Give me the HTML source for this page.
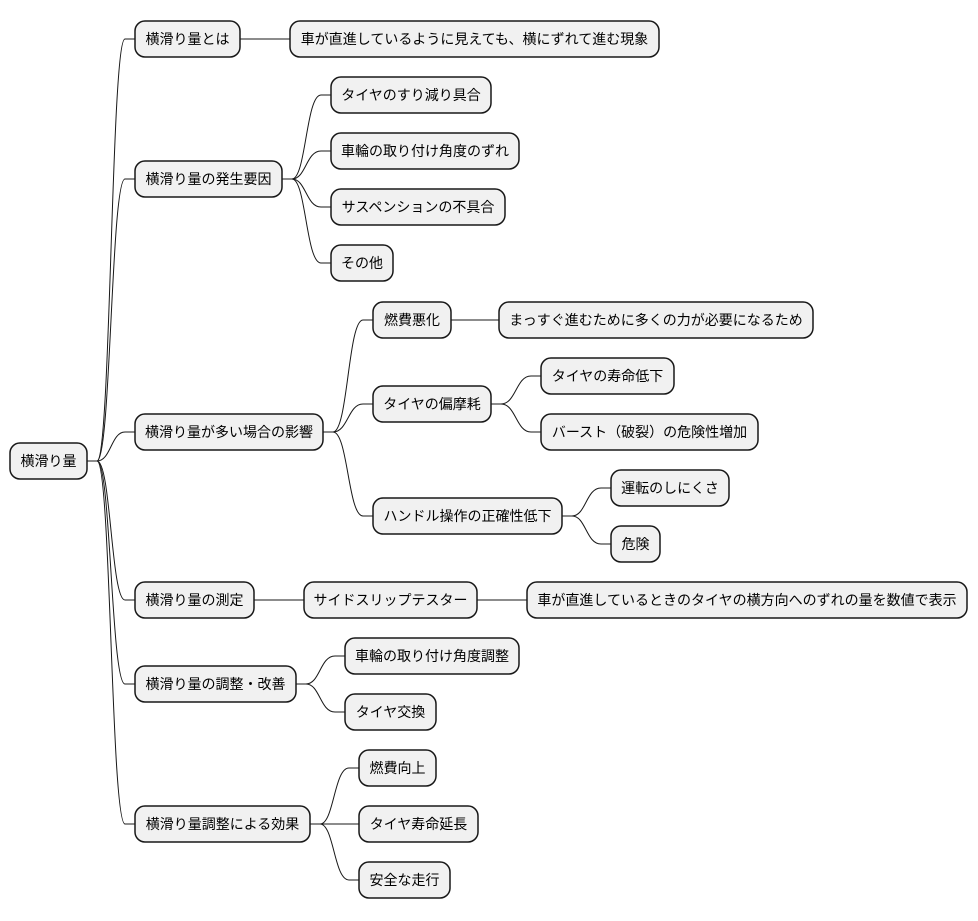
<!DOCTYPE html>
<html><head><meta charset="utf-8"><style>
html,body{margin:0;padding:0;background:#fff;}
svg{display:block;}
rect{fill:#f1f1f1;stroke:#181818;stroke-width:1.5;}
path{fill:none;stroke:#181818;stroke-width:1;}
text{font-family:"Liberation Sans","Noto Sans CJK JP",sans-serif;font-size:14px;fill:#000;text-anchor:middle;}
</style></head><body>
<svg width="978" height="921" viewBox="0 0 978 921" xmlns="http://www.w3.org/2000/svg">
<!-- connectors -->
<path d="M87 461 H97 C111 461,111 39,125 39 H135"/>
<path d="M87 461 H97 C111 461,111 179,125 179 H135"/>
<path d="M87 461 H97 C111 461,111 432,125 432 H135"/>
<path d="M87 461 H97 C111 461,111 600,125 600 H135"/>
<path d="M87 461 H97 C111 461,111 684,125 684 H135"/>
<path d="M87 461 H97 C111 461,111 824,125 824 H135"/>
<path d="M240 39 H290"/>
<path d="M282 179 H292 C306 179,306 95,321 95 H331"/>
<path d="M282 179 H292 C306 179,306 151,321 151 H331"/>
<path d="M282 179 H292 C306 179,306 207,321 207 H331"/>
<path d="M282 179 H292 C306 179,306 263,321 263 H331"/>
<path d="M323 432 H333 C348 432,348 320,363 320 H373"/>
<path d="M323 432 H333 C348 432,348 404,363 404 H373"/>
<path d="M323 432 H333 C348 432,348 516,363 516 H373"/>
<path d="M451 320 H499"/>
<path d="M491 404 H501 C516 404,516 376,531 376 H541"/>
<path d="M491 404 H501 C516 404,516 432,531 432 H541"/>
<path d="M562 516 H572 C586 516,586 488,601 488 H611"/>
<path d="M562 516 H572 C586 516,586 544,601 544 H611"/>
<path d="M254 600 H304"/>
<path d="M477 600 H527"/>
<path d="M296 684 H306 C320 684,320 656,335 656 H345"/>
<path d="M296 684 H306 C320 684,320 712,335 712 H345"/>
<path d="M310 824 H320 C334 824,334 768,349 768 H359"/>
<path d="M310 824 H320 C334 824,334 824,349 824 H359"/>
<path d="M310 824 H320 C334 824,334 880,349 880 H359"/>

<!-- nodes -->
<rect x="10" y="443" width="77" height="36" rx="10"/><text x="48.5" y="466">横滑り量</text>

<rect x="135" y="21" width="105" height="36" rx="10"/><text x="187.5" y="44">横滑り量とは</text>
<rect x="290" y="21" width="369" height="36" rx="10"/><text x="474.5" y="44">車が直進しているように見えても、横にずれて進む現象</text>

<rect x="135" y="161" width="147" height="36" rx="10"/><text x="208.5" y="184">横滑り量の発生要因</text>
<rect x="331" y="77" width="160" height="36" rx="10"/><text x="411" y="100">タイヤのすり減り具合</text>
<rect x="331" y="133" width="188" height="36" rx="10"/><text x="425" y="156">車輪の取り付け角度のずれ</text>
<rect x="331" y="189" width="174" height="36" rx="10"/><text x="418" y="212">サスペンションの不具合</text>
<rect x="331" y="245" width="62" height="36" rx="10"/><text x="362" y="268">その他</text>

<rect x="135" y="414" width="188" height="36" rx="10"/><text x="229" y="437">横滑り量が多い場合の影響</text>
<rect x="373" y="302" width="78" height="36" rx="10"/><text x="412" y="325">燃費悪化</text>
<rect x="499" y="302" width="314" height="36" rx="10"/><text x="656" y="325">まっすぐ進むために多くの力が必要になるため</text>
<rect x="373" y="386" width="118" height="36" rx="10"/><text x="432" y="409">タイヤの偏摩耗</text>
<rect x="541" y="358" width="133" height="36" rx="10"/><text x="607.5" y="381">タイヤの寿命低下</text>
<rect x="541" y="414" width="217" height="36" rx="10"/><text x="649.5" y="437">バースト（破裂）の危険性増加</text>
<rect x="373" y="498" width="189" height="36" rx="10"/><text x="467.5" y="521">ハンドル操作の正確性低下</text>
<rect x="611" y="470" width="118" height="36" rx="10"/><text x="670" y="493">運転のしにくさ</text>
<rect x="611" y="526" width="49" height="36" rx="10"/><text x="635.5" y="549">危険</text>

<rect x="135" y="582" width="119" height="36" rx="10"/><text x="194.5" y="605">横滑り量の測定</text>
<rect x="304" y="582" width="173" height="36" rx="10"/><text x="390.5" y="605">サイドスリップテスター</text>
<rect x="527" y="582" width="440" height="36" rx="10"/><text x="747" y="605">車が直進しているときのタイヤの横方向へのずれの量を数値で表示</text>

<rect x="135" y="666" width="161" height="36" rx="10"/><text x="215.5" y="689">横滑り量の調整・改善</text>
<rect x="345" y="638" width="174" height="36" rx="10"/><text x="432" y="661">車輪の取り付け角度調整</text>
<rect x="345" y="694" width="91" height="36" rx="10"/><text x="390.5" y="717">タイヤ交換</text>

<rect x="135" y="806" width="175" height="36" rx="10"/><text x="222.5" y="829">横滑り量調整による効果</text>
<rect x="359" y="750" width="77" height="36" rx="10"/><text x="397.5" y="773">燃費向上</text>
<rect x="359" y="806" width="119" height="36" rx="10"/><text x="418.5" y="829">タイヤ寿命延長</text>
<rect x="359" y="862" width="91" height="36" rx="10"/><text x="404.5" y="885">安全な走行</text>
</svg>
</body></html>
